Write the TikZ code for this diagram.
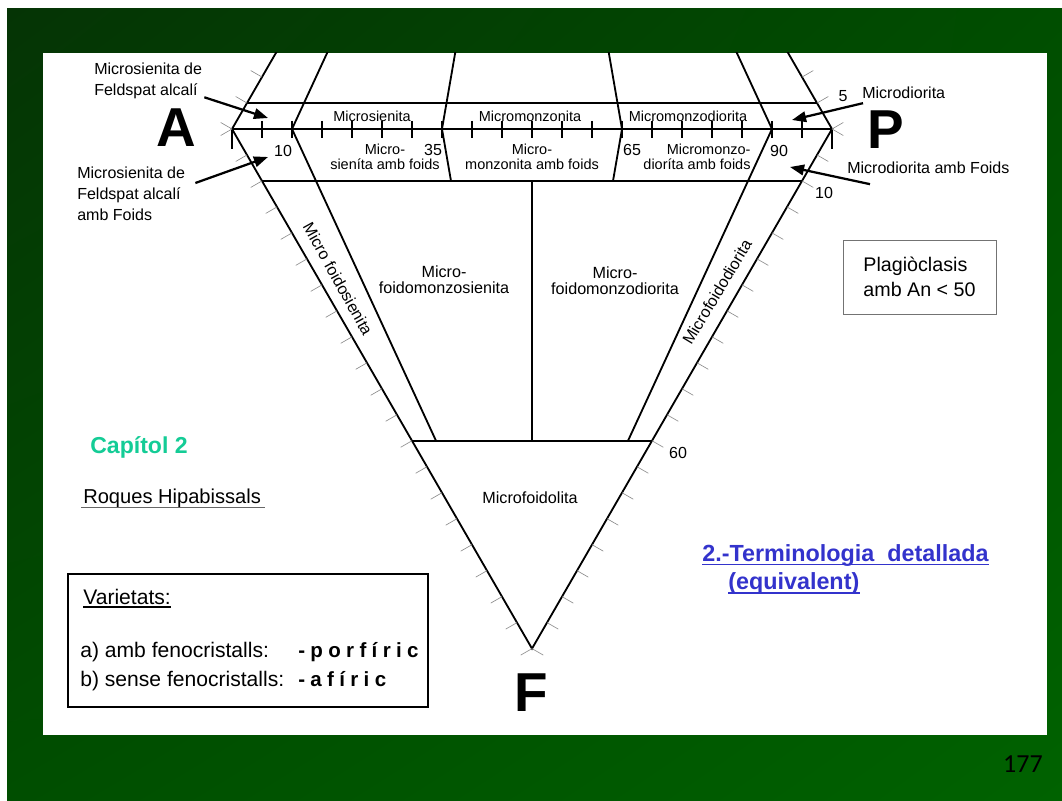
\documentclass[tikz,border=0pt]{standalone}
\usepackage{fontspec}
\setmainfont{Liberation Sans}
\newfontfamily\pagefont{Carlito}
\usetikzlibrary{arrows.meta, calc, positioning, shadings}
\definecolor{SlideDark}{RGB}{5,52,5}
\definecolor{SlideMid}{RGB}{0,78,0}
\definecolor{SlideLight}{RGB}{0,98,0}
\definecolor{ChapterGreen}{RGB}{20,204,150}
\definecolor{LinkBlue}{RGB}{51,51,204}
\newcommand\lsp{\hspace{0.26em}}

\begin{document}
\begin{tikzpicture}[x=0.025cm, y=-0.025cm,
	ln/.style={line width=1.3pt},
	ax/.style={line width=0.9pt},
	tk/.style={line width=0.45pt, black!45},
	arr/.style={-{Triangle[length=10pt, width=7.5pt]}, line width=1.6pt},
	strip/.style={font=\fontsize{10.3}{10.7}\selectfont, inner sep=0pt, align=center},
	field/.style={font=\fontsize{11.5}{11.6}\selectfont, inner sep=0pt, align=center},
	note/.style={font=\fontsize{11.4}{15}\selectfont, inner sep=0pt, align=left},
	vtx/.style={font=\fontsize{39}{40}\selectfont\bfseries, inner sep=0pt},
	txt/.style={font=\fontsize{15}{20}\selectfont, inner sep=0pt, anchor=base west},
	link/.style={font=\fontsize{16.6}{20}\selectfont\bfseries, text=LinkBlue, inner sep=0pt, anchor=base west}]
	\useasboundingbox (0,0) rectangle (1062,800);
	\fill[white] (0,0) rectangle (1062,800);
	\shade[upper left=SlideDark, upper right=SlideMid, lower left=SlideMid, lower right=SlideLight] (7,9) rectangle (1062,800);
	\fill[white] (43,53) rectangle (1047,735);

	\coordinate (A) at (232,129);
	\coordinate (P) at (832,129);
	\coordinate (F) at (532,648.6);
	\coordinate (Q) at (532,-390.6);
	\foreach \t in {10,35,50,65,90}
		\coordinate (a\t) at ($(A)!\t/100!(P)$);

	\begin{scope}
		\clip (43,53) rectangle (1047,735);
		\draw[ln] (A) -- (P) -- (F) -- cycle;
		\draw[ln] (A) -- (Q); \draw[ln] (P) -- (Q);
		\foreach \t in {10,35,65,90}
			\draw[ln] (a\t) -- (Q);
		\draw[ln] ($(A)!0.05!(Q)$) -- ($(P)!0.05!(Q)$);
		\draw[ln] ($(A)!0.1!(F)$) -- ($(P)!0.1!(F)$);
		\draw[ln] ($(A)!0.6!(F)$) -- ($(P)!0.6!(F)$);
		\draw[ln] (a10) -- ($(a10)!0.6!(F)$);
		\draw[ln] (a90) -- ($(a90)!0.6!(F)$);
		\draw[ln] (a35) -- ($(a35)!0.1!(F)$);
		\draw[ln] (a65) -- ($(a65)!0.1!(F)$);
		\draw[ln] ($(a50)!0.1!(F)$) -- ($(a50)!0.6!(F)$);
		\foreach \t in {5,10,...,95}
			\draw[ax] ($(A)!\t/100!(P)$) +(0,-8) -- +(0,9);
		\draw[ax] (A) -- +(0,20); \draw[ax] (P) -- +(0,20);
		\foreach \k in {0,...,20} {
			\draw[tk] ($(A)!\k/20!(F)$) -- +(-11.3,6.5);
			\draw[tk] ($(P)!\k/20!(F)$) -- +(11.3,6.5);
		}
		\foreach \k in {0,...,3} {
			\draw[tk] ($(A)!\k/20!(Q)$) -- +(-11.3,-6.5);
			\draw[tk] ($(P)!\k/20!(Q)$) -- +(11.3,-6.5);
		}
	\end{scope}

	\node[strip] (msien) at (372,116.5) {Microsienita};
	\node[strip] (mmonz) at (530,116.5) {Micromonzonita};
	\node[strip] (mmdio) at (688,116.5) {Micromonzodiorita};
	\node[strip] (msienf) at (385,157) {Micro-\\sieníta amb foids};
	\node[strip] (mmonzf) at (532,157) {Micro-\\monzonita amb foids};
	\node[strip, align=right] (mmdiof) at (697,157) {Micromonzo-\\dioríta amb foids};
	\node[note] (n10) at (283,151) {10};
	\node[note] (n35) at (433,150) {35};
	\node[note] (n65) at (632,150) {65};
	\node[note] (n90) at (779,151) {90};
	\node[note] (p5) at (843,96) {5};
	\node[note] (f10) at (824,193) {10};
	\node[note] (f60) at (678,453) {60};

	\node[field, rotate=-61] (mfsien) at (338,279) {Micro foidosienita};
	\node[field, rotate=59] (mfdio) at (717,292) {Microfoidodiorita};
	\node[field] (mfmsien) at (444,280) {Micro-\\foidomonzosienita};
	\node[field] (mfmdio) at (615,281) {Micro-\\foidomonzodiorita};
	\node[field] (mfol) at (530,498) {Microfoidolita};

	\node[vtx] (vA) at (176,128) {A};
	\node[vtx] (vP) at (886,130) {P};
	\node[vtx] (vF) at (531,693) {F};

	\node[note, anchor=west] (lblAQ) at (94,81) {Microsienita de\\Feldspat alcalí};
	\node[note, anchor=west] (lblAF) at (77,194) {Microsienita de\\Feldspat alcalí\\amb Foids};
	\node[note, anchor=west] (lblPQ) at (862,93) {Microdiorita};
	\node[note, anchor=west] (lblPF) at (847,168) {Microdiorita amb Foids};
	\coordinate (tipAQ) at (268,118);
	\coordinate (tipAF) at (268,157);
	\coordinate (tipPQ) at (792,120);
	\coordinate (tipPF) at (790,167);
	\draw[arr] ($(lblAQ.south east)+(2,-2)$) -- (tipAQ);
	\draw[arr] ($(lblAF.east)+(10,-11)$) -- (tipAF);
	\draw[arr] ($(lblPQ.south west)+(1,4)$) -- (tipPQ);
	\draw[arr] ($(lblPF.south west)+(23,10)$) -- (tipPF);

	\node[draw=black!55, line width=0.6pt, minimum width=3.825cm, minimum height=1.85cm,
		font=\fontsize{14}{17.8}\selectfont, align=left] (plag) at (919.5,277) {Plagiòclasis\\amb An < 50};

	\node[anchor=base west, inner sep=0pt, font=\fontsize{16.4}{18}\selectfont\bfseries, text=ChapterGreen] (cap) at (90,453) {Capítol 2};
	\node[txt, font=\fontsize{14.3}{20}\selectfont] (roq) at (83,503) {Roques Hipabissals};
	\draw[black!60, line width=0.6pt] ($(roq.base west)+(-2,4)$) -- ($(roq.base east)+(4,4)$);

	\node[draw, line width=1.3pt, minimum width=9cm, minimum height=3.325cm, anchor=north west] (varbox) at (67,573) {};
	\node[txt] (vart) at (83,604) {Varietats:};
	\draw[line width=0.8pt] ($(vart.base west)+(0,3)$) -- ($(vart.base east)+(0,3)$);
	\node[txt] (vara) at (80,657) {a) amb fenocristalls:};
	\node[txt, font=\fontsize{14.6}{20}\selectfont\bfseries] (porf) at (298,657) {-\lsp p\lsp o\lsp r\lsp f\lsp í\lsp r\lsp i\lsp c};
	\node[txt] (varb) at (80,686) {b) sense fenocristalls:};
	\node[txt, font=\fontsize{14.6}{20}\selectfont\bfseries] (afir) at (298,686) {-\lsp a\lsp f\lsp í\lsp r\lsp i\lsp c};

	\node[link] (term) at (702,561) {2.-Terminologia~ detallada};
	\node[link] (equiv) at (728,589) {(equivalent)};
	\draw[LinkBlue, line width=1.3pt] ($(term.base west)+(0,3.5)$) -- ($(term.base east)+(0,3.5)$);
	\draw[LinkBlue, line width=1.3pt] ($(equiv.base west)+(0,4)$) -- ($(equiv.base east)+(0,4)$);

	\node[anchor=base east, inner sep=0pt, font=\pagefont\fontsize{18.5}{20}\selectfont] (pgno) at (1043,772) {177};
\end{tikzpicture}
\end{document}
